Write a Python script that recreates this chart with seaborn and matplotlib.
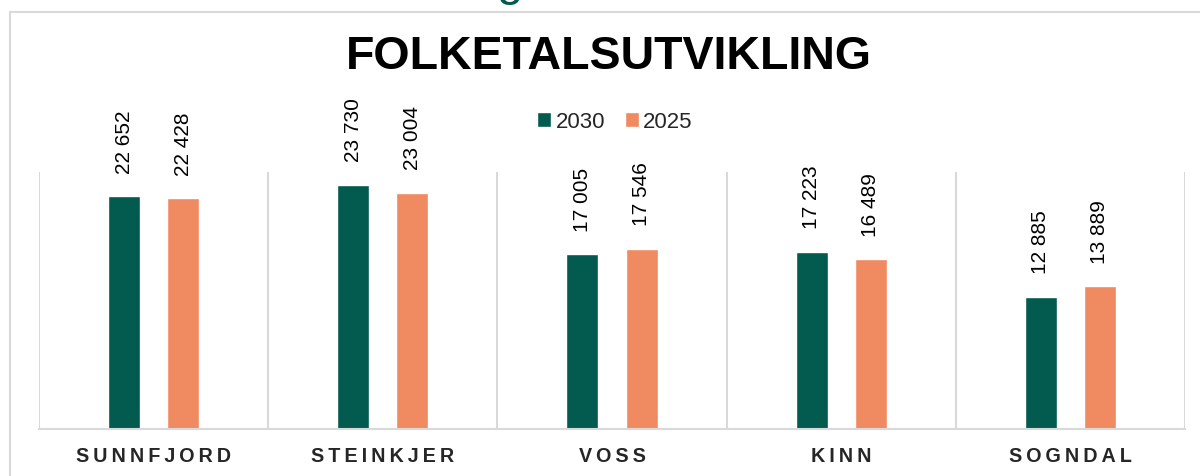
import numpy as np
import pandas as pd
import matplotlib
matplotlib.use("Agg")
import matplotlib.pyplot as plt
import seaborn as sns
from matplotlib.lines import Line2D
from matplotlib.patches import Patch

kommunar = ["SUNNFJORD", "STEINKJER", "VOSS", "KINN", "SOGNDAL"]
aar = ["2030", "2025"]
folketal_2030 = [22652, 23730, 17005, 17223, 12885]
folketal_2025 = [22428, 23004, 17546, 16489, 13889]

GREEN = "#035A4E"
ORANGE = "#F08A61"
GRID = "#D9D9D9"

df = pd.DataFrame({
    "kommune": kommunar * 2,
    "år": [aar[0]] * len(kommunar) + [aar[1]] * len(kommunar),
    "folketal": folketal_2030 + folketal_2025,
})

sns.set_style("white")
plt.rcParams["font.family"] = ["Liberation Sans", "DejaVu Sans"]

fig = plt.figure(figsize=(12, 4.77), dpi=100)
ax = fig.add_axes([39 / 1200, 1 - 430 / 477, (1185 - 39) / 1200, (430 - 173) / 477])

sns.barplot(data=df, x="kommune", y="folketal", hue="år", hue_order=aar,
            palette=[GREEN, ORANGE], width=0.516, gap=0.46, ax=ax,
            legend=False, saturation=1, errorbar=None)

for cont in ax.containers:
    ax.bar_label(cont, labels=[f"{v:,.0f}".replace(",", " ") for v in cont.datavalues],
                 rotation=90, padding=17, fontsize=15, color="black", clip_on=False)

ax.set_ylim(0, 25000)
ax.set_xlim(-0.5, len(kommunar) - 0.5)
ax.set_yticks([])
ax.set_xlabel("")
ax.set_ylabel("")
ax.set_xticks(range(len(kommunar)))
# sperra skrift: tynne mellomrom mellom bokstavane
ax.set_xticklabels(["\u2009".join(k) for k in kommunar], fontsize=14.2, fontweight="bold")
ax.tick_params(axis="x", length=0, pad=12)
ax.set_xticks(np.arange(-0.5, len(kommunar), 1), minor=True)
ax.tick_params(axis="x", which="minor", length=0)
ax.grid(which="minor", axis="x", color=GRID, linewidth=1.5)
ax.set_axisbelow(True)
for side in ["top", "left", "right"]:
    ax.spines[side].set_visible(False)
ax.spines["bottom"].set_color(GRID)
ax.spines["bottom"].set_linewidth(1.5)

handles = [Patch(facecolor=GREEN, label=aar[0]), Patch(facecolor=ORANGE, label=aar[1])]
fig.legend(handles=handles, loc="center", bbox_to_anchor=(615 / 1200, 1 - 123 / 477),
           ncol=2, frameon=False, fontsize=16, handlelength=0.62, handleheight=0.62,
           handletextpad=0.2, columnspacing=0.9)

fig.text(609 / 1200, 1 - 57 / 477, "FOLKETALSUTVIKLING", ha="center", va="center",
         fontsize=33.5, fontweight="bold", color="black")

# ramme rundt diagrammet og rest av overskrift over
fig.add_artist(Line2D([9.5 / 1200, 1], [1 - 12.5 / 477] * 2, color=GRID, linewidth=1.5))
fig.add_artist(Line2D([9.5 / 1200] * 2, [0, 1 - 12.5 / 477], color=GRID, linewidth=1.5))
fig.text(510 / 1200, 1 + 5 / 477, "g", ha="center", va="baseline",
         fontsize=34, color=GREEN)

fig.savefig("out.png", dpi=100)
